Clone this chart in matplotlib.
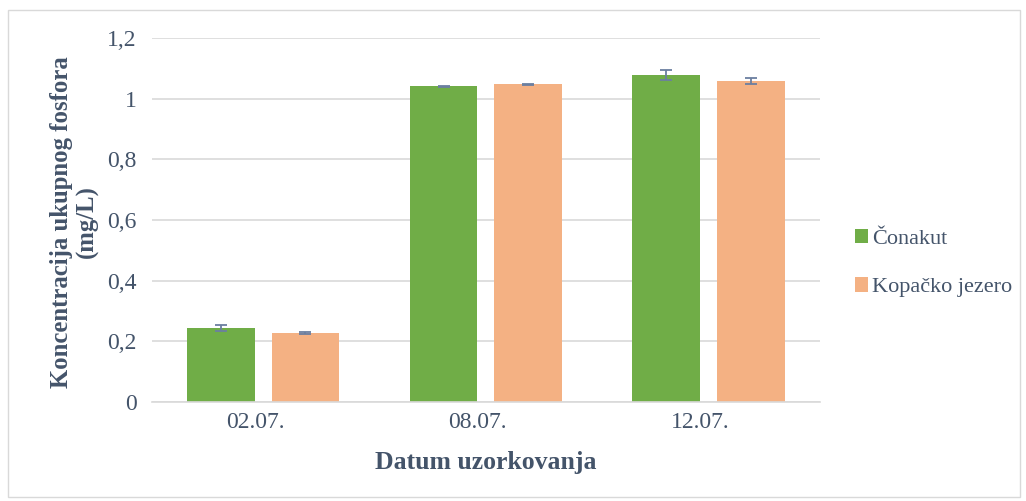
import matplotlib
matplotlib.use("Agg")
import matplotlib.pyplot as plt
import matplotlib.transforms as mtransforms
import numpy as np
from matplotlib.patches import Rectangle

datumi = ["02.07.", "08.07.", "12.07."]
conakut = [0.242, 1.041, 1.078]
conakut_err = [0.010, 0.002, 0.017]
kopacko = [0.228, 1.047, 1.059]
kopacko_err = [0.003, 0.002, 0.009]

plt.rcParams["font.family"] = ["Liberation Serif", "DejaVu Serif"]
tekst = "#44546A"

fig = plt.figure(figsize=(10.26, 5.01), dpi=100)
ax = fig.add_axes([0.148, 0.198, 0.651, 0.726])

x = np.arange(len(datumi))
w = 0.305
pomak = 0.19
ek = dict(ecolor="#6B7FA0", elinewidth=1.3, capsize=4.5, capthick=1.3)
ax.bar(x - pomak, conakut, w, color="#70AD47", label="Čonakut", zorder=2,
       yerr=conakut_err, error_kw=ek)
ax.bar(x + pomak, kopacko, w, color="#F4B183", label="Kopačko jezero", zorder=2,
       yerr=kopacko_err, error_kw=ek)

ax.set_xlim(-0.5, 2.5)
ax.set_ylim(0, 1.2)
yt = np.arange(0, 1.21, 0.2)
ax.set_yticks(yt)
ax.set_yticklabels(["0" if v == 0 else ("1" if abs(v - 1) < 1e-9 else f"{v:.1f}".replace(".", ",")) for v in yt])
ax.set_xticks(x)
ax.set_xticklabels(datumi)
ax.tick_params(axis="y", length=0, labelsize=17, colors=tekst, pad=11)
ax.tick_params(axis="x", length=0, labelsize=17, colors=tekst, pad=7)
# oznake datuma su u originalu malo lijevo od sredine grupe
pomak_t = mtransforms.ScaledTranslation(-8 / 100, 0, fig.dpi_scale_trans)
for lab in ax.get_xticklabels():
    lab.set_transform(lab.get_transform() + pomak_t)
ax.yaxis.grid(True, color="#D9D9D9", linewidth=1.2, zorder=0)
for s in ["top", "right", "left"]:
    ax.spines[s].set_visible(False)
ax.spines["bottom"].set_color("#D9D9D9")
ax.spines["bottom"].set_linewidth(1.2)

ax.set_xlabel("Datum uzorkovanja", fontsize=18.5, fontweight="bold", color=tekst)
ax.xaxis.set_label_coords(0.5, -0.135)
ax.set_ylabel("Koncentracija ukupnog fosfora\n(mg/L)", fontsize=17.8, fontweight="bold", color=tekst,
              linespacing=1.12, va="center")
ax.yaxis.set_label_coords(-0.116, 0.495)

leg = fig.legend(loc="center left", bbox_to_anchor=(0.814, 0.475), frameon=False, fontsize=16,
                 handlelength=0.6, handleheight=0.6, handletextpad=0.15, labelspacing=1.3)
for t in leg.get_texts():
    t.set_color(tekst)

fig.patches.append(Rectangle((0.008, 0.008), 0.986, 0.972, transform=fig.transFigure,
                             fill=False, edgecolor="#D9D9D9", linewidth=1))

fig.savefig("out.png", dpi=100)
